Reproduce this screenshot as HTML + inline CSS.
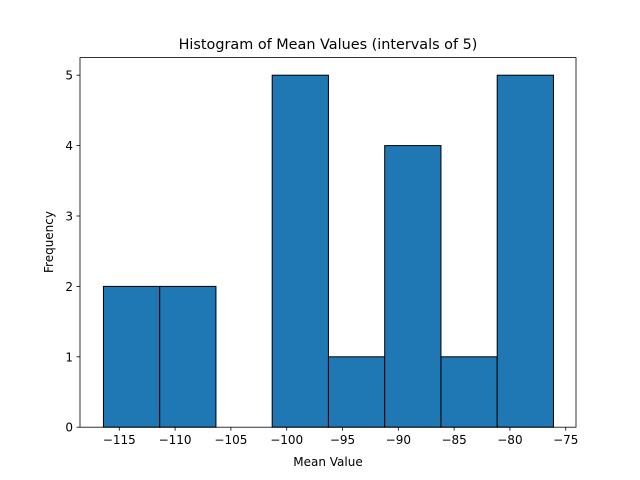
<!DOCTYPE html>
<html><head><meta charset="utf-8"><style>body{margin:0;background:#fff}svg{display:block;font-family:"DejaVu Sans","Liberation Sans",sans-serif}</style></head>
<body>
<svg id="chart" width="640" height="480">
<rect width="640" height="480" fill="#fff"/>
<text x="328" y="49" font-size="14.4" text-anchor="middle">Histogram of Mean Values (intervals of 5)</text>
<g id="bars"></g>
<g id="xt"></g><g id="yt"></g>
<rect x="80" y="57.6" width="496" height="369.6" fill="none" stroke="#000" stroke-width="0.8"/>
<text x="328" y="466" font-size="12" text-anchor="middle">Mean Value</text>
<text transform="translate(53,242) rotate(-90)" font-size="12" text-anchor="middle">Frequency</text>
</svg>
<script>
const binStart = -116.42;
const binWidth = 5.04;
const counts = [2, 2, 0, 5, 1, 4, 1, 5];
const xTicks = [-115, -110, -105, -100, -95, -90, -85, -80, -75];
const yTicks = [0, 1, 2, 3, 4, 5];
const xmin = -118.52, xmax = -74.08, ymax = 5.25;
const L = 80, R = 576, T = 57.6, B = 427.2;
const ns = "http://www.w3.org/2000/svg";
const sx = v => L + (v - xmin) / (xmax - xmin) * (R - L);
const sy = v => B - v / ymax * (B - T);
const mk = (t, a, p) => { const e = document.createElementNS(ns, t); for (const k in a) e.setAttribute(k, a[k]); p.appendChild(e); return e; };
const bars = document.getElementById('bars');
counts.forEach((c, i) => {
  if (c <= 0) return;
  const x0 = sx(binStart + i * binWidth), x1 = sx(binStart + (i + 1) * binWidth);
  const r = mk('rect', {x: x0, y: sy(c), width: x1 - x0, height: sy(0) - sy(c), fill: '#1f77b4', stroke: '#000', 'stroke-width': 1}, bars);
  
  
});
const xt = document.getElementById('xt');
xTicks.forEach(v => {
  const x = sx(v);
  mk('line', {x1: x, x2: x, y1: B, y2: B + 3.5, stroke: '#000', 'stroke-width': 0.8}, xt);
  const t = mk('text', {x: x, y: B + 17, 'font-size': 12, 'text-anchor': 'middle'}, xt);
  t.textContent = '\u2212' + Math.abs(v);
  
  
});
const yt = document.getElementById('yt');
yTicks.forEach(v => {
  const y = sy(v);
  mk('line', {x1: L - 3.5, x2: L, y1: y, y2: y, stroke: '#000', 'stroke-width': 0.8}, yt);
  const t = mk('text', {x: L - 7, y: y + 4.5, 'font-size': 12, 'text-anchor': 'end'}, yt);
  t.textContent = v;
  
  
});
</script>
</body></html>
